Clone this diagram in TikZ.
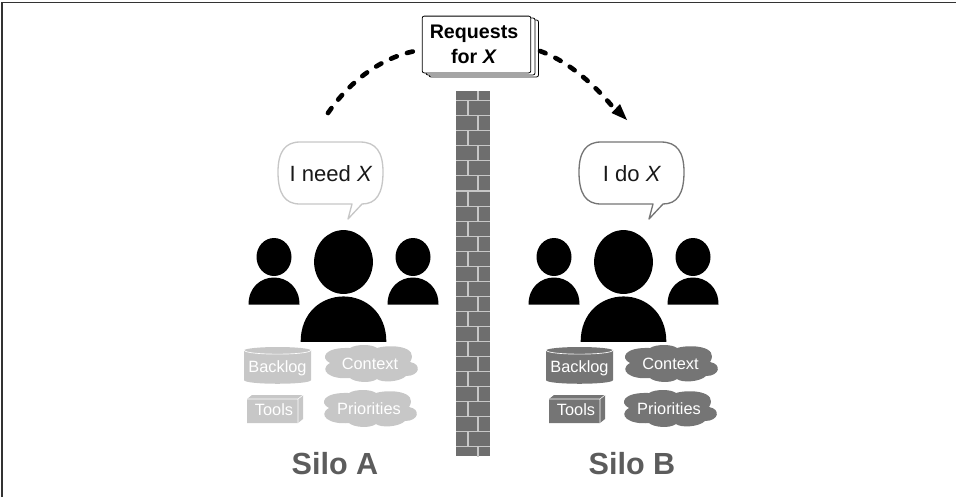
\documentclass[tikz,border=0pt]{standalone}
\usepackage{fontspec}
\setmainfont{Liberation Sans}
\usetikzlibrary{arrows.meta}
\definecolor{silolight}{gray}{0.78}
\definecolor{silodark}{gray}{0.46}
\definecolor{silotext}{gray}{0.36}
\definecolor{brick}{gray}{0.43}
\definecolor{mortar}{gray}{0.78}
\tikzset{
  x=0.0264583cm,y=-0.0264583cm,
  framepen/.style={draw=black!80,line width=0.9pt},
  bubble/.style={fill=white,line width=1pt,line join=round},
  sheet/.style={draw=black,fill=white,line width=0.6pt,rounded corners=1.5pt},
  person/.style={fill=black,draw=none},
  reqtext/.style={font=\bfseries\fontsize{14.8}{18.5}\selectfont,align=center,text=black},
  speech/.style={font=\fontsize{16.6}{20}\selectfont,text=black!90},
  itemtext/.style={font=\fontsize{12.3}{14}\selectfont,text=white},
  silolabel/.style={font=\bfseries\fontsize{23}{26}\selectfont,text=silotext},
  flow/.style={line width=3.5pt,line cap=round,dash pattern=on 4.5pt off 8.2pt},
  mortarline/.style={draw=mortar,line width=0.8pt},
}
\newcommand{\personat}[3]{% x, y head centre, scale
  \begin{scope}[shift={(#1,#2)},scale=#3]
    \fill[person] (0,0) ellipse [x radius=17.5,y radius=19];
    \fill[person] (-25.5,47.5) .. controls (-25.5,30) and (-13,20.5) .. (0,20.5) .. controls (13,20.5) and (25.5,30) .. (25.5,47.5) -- cycle;
  \end{scope}}
\newcommand{\cloudat}[3]{% x,y,colour
  \begin{scope}[shift={(#1,#2)}]
    \fill[#3] (-40,-1) .. controls (-50,-6) and (-46,-17) .. (-20,-16)
      .. controls (-14,-20) and (2,-20) .. (7,-16)
      .. controls (20,-20) and (50,-18) .. (40,-2)
      .. controls (52,0) and (50,12) .. (36,12)
      .. controls (30,18) and (12,19) .. (7,15)
      .. controls (0,20) and (-16,18) .. (-20,14)
      .. controls (-40,16) and (-52,6) .. (-40,-1) -- cycle;
  \end{scope}}
\newcommand{\cylat}[3]{% centre x, top y, colour
  \begin{scope}[shift={(#1,#2)}]
    \fill[#3] (-33.5,3) -- (-33.5,33) .. controls (-33.5,38) and (33.5,38) .. (33.5,33) -- (33.5,3) -- cycle;
    \fill[#3] (0,3.5) ellipse [x radius=33.5,y radius=3.5];
    \draw[white,line width=0.5pt] (-33.5,3) .. controls (-33.5,8.5) and (33.5,8.5) .. (33.5,3);
  \end{scope}}
\newcommand{\boxat}[3]{% left x, top y, colour
  \begin{scope}[shift={(#1,#2)}]
    \fill[#3] (0,4) -- (5,0) -- (56,0) -- (56,24) -- (51,28) -- (0,28) -- cycle;
    \draw[white,line width=0.4pt] (0,4) -- (51,4) -- (51,28) (51,4) -- (56,0);
  \end{scope}}
\begin{document}
\begin{tikzpicture}
\useasboundingbox (0,0) rectangle (956,497);
% frame
\draw[framepen] (2,497) -- (2,2.5) -- (956,2.5);
% wall
\begin{scope}
\clip (456,91) rectangle (490,456);
\fill[brick] (456,91) rectangle (490,456);
\draw[mortarline] (456,100.7) -- (490,100.7);
\draw[mortarline] (478,91) -- (478,100.7);
\foreach \i in {0,...,23}{
  \pgfmathsetmacro{\yy}{100.7+\i*15.05}
  \draw[mortarline] (456,\yy) -- (490,\yy);
  \pgfmathparse{int(mod(\i,2))}
  \ifnum\pgfmathresult=0
    \draw[mortarline] (468,\yy) -- (468,\yy+15.05);
  \else
    \draw[mortarline] (478,\yy) -- (478,\yy+15.05);
  \fi
}
\end{scope}
% request cards
\draw[sheet] (429,20) rectangle (538.5,77);
\draw[sheet] (426,18) rectangle (535,75);
\node[sheet,inner sep=0pt,minimum width=81.75pt,minimum height=42.75pt] (req) at (476.5,44.5) {};
\node[reqtext,inner sep=0pt] (reqlabel) at (474,44.5) {Requests\\for \textit{X}};
\coordinate (fromA) at (328,113);
\coordinate (toA) at (418,50.5);
\coordinate (fromB) at (540,51);
\coordinate (toB) at (612,106);
\coordinate (tipB) at (627,120);
\draw[flow] (fromA) .. controls (352,78) and (385,56) .. (toA);
\draw[flow] (fromB) .. controls (565,60) and (590,80) .. (toB);
\fill[black] (tipB) -- (611.5,113) -- (620,104) -- cycle;
% bubbles
\draw[bubble,draw=silolight] (300,142) -- (360,142) .. controls (376,142) and (383,152) .. (383,172) .. controls (383,194) and (376,204) .. (362,204) -- (348,219) -- (352,204) -- (300,204) .. controls (285,204) and (278,194) .. (278,172) .. controls (278,152) and (285,142) .. (300,142) -- cycle;
\node[speech] (needx) at (331,174) {I need \textit{X}};
\draw[bubble,draw=silodark] (601,142) -- (661,142) .. controls (677,142) and (684,152) .. (684,172) .. controls (684,194) and (677,204) .. (663,204) -- (649,219) -- (653,204) -- (601,204) .. controls (586,204) and (579,194) .. (579,172) .. controls (579,152) and (586,142) .. (601,142) -- cycle;
\node[speech] (dox) at (632,174) {I do \textit{X}};
% people A
\personat{274}{257}{1}
\personat{413}{257}{1}
\personat{343.5}{262}{1.68}
% people B
\personat{554}{257}{1}
\personat{693}{257}{1}
\personat{623.5}{262}{1.68}
% silo A
\cylat{277.5}{347}{silolight}
\node[itemtext] (ba) at (277.5,368) {Backlog};
\cloudat{370}{364}{silolight}
\node[itemtext] (ca) at (370,364) {Context};
\boxat{247}{395}{silolight}
\node[itemtext] (ta) at (274,410) {Tools};
\cloudat{369}{409}{silolight}
\node[itemtext] (pa) at (369,409) {Priorities};
\node[silolabel] (sa) at (335,464) {Silo A};
% silo B
\cylat{579.5}{347}{silodark}
\node[itemtext] (bb) at (579.5,368) {Backlog};
\cloudat{670}{364}{silodark}
\node[itemtext] (cb) at (670.5,364) {Context};
\boxat{549}{395}{silodark}
\node[itemtext] (tb) at (576,410) {Tools};
\cloudat{669}{409}{silodark}
\node[itemtext] (pb) at (669,409) {Priorities};
\node[silolabel] (sb) at (632,464) {Silo B};
\end{tikzpicture}
\end{document}
